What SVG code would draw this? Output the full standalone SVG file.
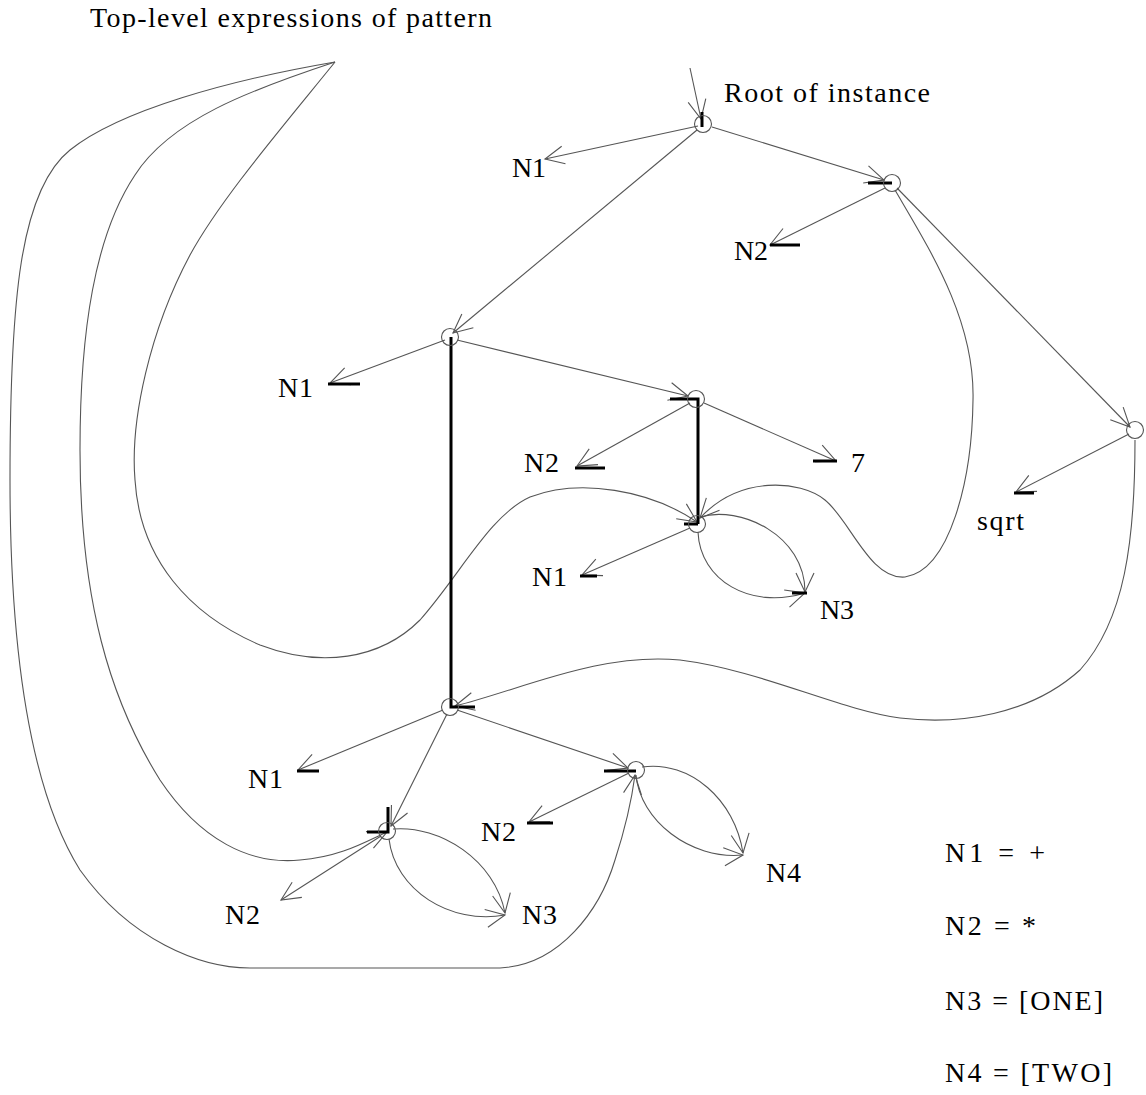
<svg xmlns="http://www.w3.org/2000/svg" width="1146" height="1095" viewBox="0 0 1146 1095">
<style>
text{font-family:"Liberation Serif","DejaVu Serif",serif;font-size:28px;fill:#000}
.ln{fill:none;stroke:#555;stroke-width:1.1}
.tk{fill:none;stroke:#000;stroke-width:3}
.nd{fill:none;stroke:#555;stroke-width:1.1}
</style>
<defs>
<marker id="ah" markerUnits="userSpaceOnUse" markerWidth="24" markerHeight="22" viewBox="0 0 24 22" refX="21" refY="11" orient="auto">
<path d="M2,2 L21,11 L2,20" fill="none" stroke="#555" stroke-width="1.1"/>
</marker>
</defs>
<rect width="1146" height="1095" fill="#fff"/>
<g id="connectors">
<path class="ln" marker-end="url(#ah)" d="M690,68 L701,119"/>
<path class="ln" marker-end="url(#ah)" d="M698,126 L545,159"/>
<path class="ln" marker-end="url(#ah)" d="M697,130 L453,333"/>
<path class="ln" marker-end="url(#ah)" d="M712,127 L884,180"/>
<path class="ln" marker-end="url(#ah)" d="M885,188 L770,245"/>
<path class="ln" marker-end="url(#ah)" d="M897,188 L1130,427"/>
<path class="ln" marker-end="url(#ah)" d="M445,340 L330,383"/>
<path class="ln" marker-end="url(#ah)" d="M457,340 L688,396"/>
<path class="ln" marker-end="url(#ah)" d="M690,403 L577,466"/>
<path class="ln" marker-end="url(#ah)" d="M704,403 L836,461"/>
<path class="ln" marker-end="url(#ah)" d="M690,528 L582,575"/>
<path class="ln" marker-end="url(#ah)" d="M443,710 L298,770"/>
<path class="ln" marker-end="url(#ah)" d="M457,710 L628,768"/>
<path class="ln" marker-end="url(#ah)" d="M447,714 L391,826"/>
<path class="ln" marker-end="url(#ah)" d="M629,773 L529,822"/>
<path class="ln" marker-end="url(#ah)" d="M381,836 L281,900"/>
<path class="ln" marker-end="url(#ah)" d="M1129,434 L1016,492"/>
<path class="ln" marker-end="url(#ah)" d="M700,517 C740,505 805,535 805,592"/>
<path class="ln" marker-end="url(#ah)" d="M698,532 C700,580 750,610 805,593"/>
<path class="ln" marker-end="url(#ah)" d="M393,829 C440,825 495,860 505,913"/>
<path class="ln" marker-end="url(#ah)" d="M389,839 C395,890 450,925 505,915"/>
<path class="ln" marker-end="url(#ah)" d="M642,767 C690,760 735,800 743,853"/>
<path class="ln" marker-end="url(#ah)" d="M636,775 C640,820 690,860 743,855"/>
<path class="ln" marker-end="url(#ah)" d="M335,62 C280,130 220,200 190,255 C150,330 130,420 135,480 C140,560 190,615 260,645 C320,668 380,660 420,620 C460,575 490,515 530,497 C580,478 650,490 697,522"/>
<path class="ln" marker-end="url(#ah)" d="M335,62 C250,90 170,120 135,175 C95,235 80,330 80,450 C80,600 110,700 160,780 C200,840 250,865 300,860 C340,857 365,842 387,832"/>
<path class="ln" marker-end="url(#ah)" d="M335,62 C230,80 120,110 70,150 C20,190 10,300 10,480 C10,650 30,790 80,870 C130,940 200,968 250,968 L500,968 C560,965 600,910 615,860 C628,820 633,790 635,775"/>
<path class="ln" marker-end="url(#ah)" d="M1135,440 C1135,540 1125,620 1080,670 C1030,715 960,725 900,718 C840,710 760,670 680,660 C600,652 520,690 455,706"/>
<path class="ln" marker-end="url(#ah)" d="M895,190 C930,250 975,320 973,400 C972,480 950,570 905,577 C870,580 850,520 825,500 C800,480 740,475 700,518"/>
<path class="tk" d="M702,112 L702,127"/>
<path class="tk" d="M868,183 L892,183"/>
<path class="tk" d="M451,337 L451,707 L475,707"/>
<path class="tk" d="M670,399 L698,399 L698,524 M684,524 L698,524"/>
<path class="tk" d="M604,771 L636,771"/>
<path class="tk" d="M367,832 L388,832 L388,807"/>
<path class="tk" d="M770,245 L800,245"/>
<path class="tk" d="M328,384 L360,384"/>
<path class="tk" d="M575,468 L605,468"/>
<path class="tk" d="M813,461 L837,461"/>
<path class="tk" d="M580,576 L597,576"/>
<path class="tk" d="M792,593 L807,593"/>
<path class="tk" d="M297,771 L319,771"/>
<path class="tk" d="M527,823 L553,823"/>
<path class="tk" d="M1014,493 L1034,493"/>
</g>
<g id="nodeA"><circle class="nd" cx="703" cy="124" r="8.5"/></g>
<g id="nodeB"><circle class="nd" cx="892" cy="183" r="8.5"/></g>
<g id="nodeC"><circle class="nd" cx="450" cy="337" r="8.5"/></g>
<g id="nodeD"><circle class="nd" cx="696" cy="399" r="8.5"/></g>
<g id="nodeE"><circle class="nd" cx="697" cy="524" r="8.5"/></g>
<g id="nodeF"><circle class="nd" cx="450" cy="707" r="8.5"/></g>
<g id="nodeG"><circle class="nd" cx="636" cy="770" r="8.5"/></g>
<g id="nodeH"><circle class="nd" cx="387" cy="831" r="8.5"/></g>
<g id="nodeI"><circle class="nd" cx="1135" cy="430" r="8.5"/></g>
<g id="labels">
<text x="90" y="27" textLength="402">Top-level expressions of pattern</text>
<text x="724" y="102" textLength="206">Root of instance</text>
<text x="512" y="177" textLength="34">N1</text>
<text x="734" y="260" textLength="34">N2</text>
<text x="278" y="397" textLength="35">N1</text>
<text x="524" y="472" textLength="35">N2</text>
<text x="851" y="472">7</text>
<text x="977" y="530" textLength="47">sqrt</text>
<text x="532" y="586" textLength="35">N1</text>
<text x="820" y="619" textLength="34">N3</text>
<text x="248" y="788" textLength="35">N1</text>
<text x="481" y="841" textLength="35">N2</text>
<text x="766" y="882" textLength="35">N4</text>
<text x="225" y="924" textLength="35">N2</text>
<text x="522" y="924" textLength="35">N3</text>
<text x="945" y="862" textLength="100">N1 = +</text>
<text x="945" y="935" textLength="91">N2 = *</text>
<text x="945" y="1010" textLength="158">N3 = [ONE]</text>
<text x="945" y="1082" textLength="167">N4 = [TWO]</text>
</g>
</svg>
